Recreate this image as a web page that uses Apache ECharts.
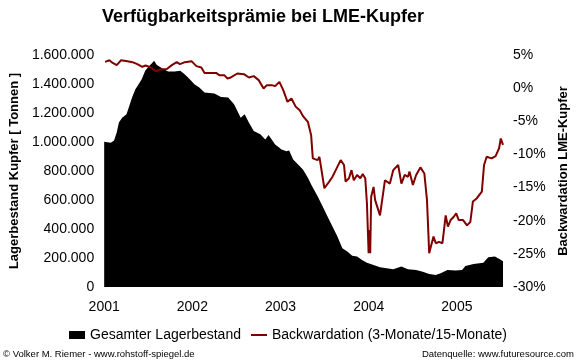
<!DOCTYPE html>
<html>
<head>
<meta charset="utf-8">
<script src="https://cdn.jsdelivr.net/npm/echarts@6/dist/echarts.min.js"></script>
<style>
html,body{margin:0;padding:0;background:#fff;}
#c{width:580px;height:362px;}
</style>
</head>
<body>
<div id="c"></div>
<script>
// Year tick labels
var yearTicks = [2001, 2002, 2003, 2004, 2005];

// Gesamter Lagerbestand (tonnes) — dates as decimal years
var stockDates = [2001.0,2001.075,2001.112,2001.142,2001.167,2001.204,2001.253,2001.279,2001.316,2001.354,2001.391,2001.427,2001.465,2001.502,2001.539,2001.566,2001.595,2001.651,2001.725,2001.800,2001.863,2001.912,2001.968,2002.023,2002.079,2002.138,2002.250,2002.325,2002.406,2002.473,2002.548,2002.593,2002.641,2002.696,2002.771,2002.827,2002.864,2002.939,2003.012,2003.068,2003.098,2003.143,2003.199,2003.254,2003.310,2003.358,2003.422,2003.478,2003.533,2003.589,2003.645,2003.701,2003.757,2003.813,2003.868,2003.924,2003.980,2004.055,2004.128,2004.203,2004.278,2004.371,2004.445,2004.538,2004.613,2004.686,2004.761,2004.817,2004.892,2004.984,2005.059,2005.096,2005.189,2005.300,2005.356,2005.431,2005.487,2005.523];
var stockValues = [1002000,995000,1011000,1065000,1134000,1168000,1191000,1238000,1307000,1364000,1399000,1434000,1491000,1519000,1542000,1561000,1533000,1510000,1487000,1487000,1491000,1468000,1434000,1399000,1376000,1341000,1335000,1311000,1307000,1260000,1168000,1191000,1134000,1076000,1053000,1018000,1048000,983000,949000,937000,942000,880000,845000,810000,753000,695000,625000,556000,487000,418000,348000,268000,244000,215000,210000,187000,168000,152000,136000,129000,123000,141000,123000,118000,106000,90000,83000,95000,118000,113000,118000,145000,159000,168000,205000,210000,192000,178000];

// Backwardation (3-Monate/15-Monate), percent
var backDates = [2001.011,2001.059,2001.097,2001.142,2001.190,2001.265,2001.320,2001.376,2001.432,2001.469,2001.513,2001.544,2001.588,2001.636,2001.711,2001.767,2001.823,2001.859,2001.915,2001.990,2002.046,2002.102,2002.138,2002.213,2002.269,2002.306,2002.362,2002.398,2002.436,2002.510,2002.585,2002.641,2002.696,2002.752,2002.808,2002.845,2002.901,2002.939,2002.987,2003.031,2003.079,2003.124,2003.173,2003.218,2003.254,2003.310,2003.347,2003.366,2003.422,2003.441,2003.459,2003.497,2003.552,2003.589,2003.626,2003.682,2003.720,2003.738,2003.776,2003.805,2003.831,2003.868,2003.905,2003.932,2003.961,2003.980,2003.999,2004.010,2004.017,2004.028,2004.055,2004.073,2004.128,2004.147,2004.184,2004.240,2004.278,2004.334,2004.371,2004.408,2004.445,2004.463,2004.501,2004.538,2004.586,2004.631,2004.661,2004.686,2004.705,2004.735,2004.761,2004.798,2004.836,2004.873,2004.898,2004.929,2004.965,2004.992,2005.021,2005.070,2005.115,2005.152,2005.182,2005.227,2005.283,2005.308,2005.338,2005.356,2005.394,2005.412,2005.439,2005.478,2005.498,2005.523];
var backValues = [3.97,4.2,3.8,3.47,4.2,4.07,3.92,3.62,3.2,3.42,3.2,2.97,2.52,2.82,2.9,3.47,3.92,3.62,3.92,4.07,3.32,3.12,2.3,2.3,2.3,1.96,1.96,1.46,1.61,2.21,2.11,1.61,1.81,1.21,-0.05,0.45,0.45,0.3,0.95,-0.3,-2.06,-1.56,-2.82,-3.32,-4.2,-5.08,-7.09,-10.6,-10.86,-10.36,-11.87,-15.1,-14.1,-13.37,-12.37,-10.86,-11.6,-14.1,-13.6,-12.37,-13.9,-13.1,-13.6,-12.97,-13.6,-17.4,-24.9,-21.4,-24.9,-16.4,-14.9,-16.9,-19.2,-18.9,-13.9,-14.4,-12.37,-11.6,-14.4,-13.1,-13.37,-12.6,-14.6,-13.1,-11.96,-12.87,-16.9,-24.9,-23.9,-22.4,-23.4,-23.2,-23.4,-19.2,-20.9,-19.9,-19.4,-18.9,-19.9,-19.9,-20.7,-20.2,-17.1,-16.6,-15.6,-11.6,-10.36,-10.1,-10.6,-10.86,-10.26,-9.1,-7.6,-8.55];

function zip(a, b) { return a.map(function (v, i) { return [v, b[i]]; }); }
function fmtThousands(v) { return String(v).replace(/\B(?=(\d{3})+(?!\d))/g, '.'); }

var FONT = 'Arial, "Liberation Sans", sans-serif';
var chart = echarts.init(document.getElementById('c'), null, {renderer: 'canvas'});
chart.setOption({
  animation: false,
  backgroundColor: '#fff',
  textStyle: {fontFamily: FONT},
  title: {
    text: 'Verfügbarkeitsprämie bei LME-Kupfer',
    left: 97, top: 3,
    textStyle: {fontFamily: FONT, fontSize: 18, fontWeight: 'bold', color: '#000'}
  },
  grid: {left: 98, right: 77, top: 55, bottom: 75},
  legend: {
    left: 69, top: 328, padding: 0,
    itemWidth: 16, itemHeight: 8, itemGap: 10, symbolKeepAspect: true,
    textStyle: {fontFamily: FONT, fontSize: 14, color: '#000'},
    data: [
      {name: 'Gesamter Lagerbestand', icon: 'rect'},
      {name: 'Backwardation (3-Monate/15-Monate)', icon: 'path://M0,0L16,0L16,2L0,2Z'}
    ]
  },
  xAxis: {
    type: 'value', min: 2001, max: 2005.523, interval: 1,
    axisLine: {show: false}, axisTick: {show: false}, splitLine: {show: false},
    axisLabel: {
      fontFamily: FONT, fontSize: 14, color: '#000', margin: 13,
      showMaxLabel: false,
      formatter: function (v) { return yearTicks.indexOf(v) >= 0 ? String(v) : ''; }
    }
  },
  yAxis: [{
    type: 'value', min: 0, max: 1600000, interval: 200000,
    name: 'Lagerbestand Kupfer [ Tonnen ]', nameLocation: 'middle', nameRotate: 90, nameGap: 77,
    nameTextStyle: {fontFamily: FONT, fontSize: 13, fontWeight: 'bold', color: '#000'},
    axisLine: {show: false}, axisTick: {show: false}, splitLine: {show: false},
    axisLabel: {fontFamily: FONT, fontSize: 14, color: '#000', margin: 10, formatter: fmtThousands}
  }, {
    type: 'value', min: -30, max: 5, interval: 5, position: 'right',
    name: 'Backwardation LME-Kupfer', nameLocation: 'middle', nameRotate: 90, nameGap: 52,
    nameTextStyle: {fontFamily: FONT, fontSize: 13, fontWeight: 'bold', color: '#000'},
    axisLine: {show: false}, axisTick: {show: false}, splitLine: {show: false},
    axisLabel: {fontFamily: FONT, fontSize: 14, color: '#000', margin: 10, formatter: function (v) { return v + '%'; }}
  }],
  series: [{
    name: 'Gesamter Lagerbestand', type: 'line', yAxisIndex: 0,
    data: zip(stockDates, stockValues),
    symbol: 'none', lineStyle: {width: 0, color: '#000'},
    itemStyle: {color: '#000'},
    areaStyle: {color: '#000', opacity: 1}
  }, {
    name: 'Backwardation (3-Monate/15-Monate)', type: 'line', yAxisIndex: 1,
    data: zip(backDates, backValues),
    symbol: 'none', lineStyle: {width: 2, color: '#800000'},
    itemStyle: {color: '#800000'}
  }],
  graphic: [{
    type: 'text', left: 3, top: 349,
    style: {text: '© Volker M. Riemer - www.rohstoff-spiegel.de', font: '9.5px ' + FONT, fill: '#000'}
  }, {
    type: 'text', right: 6, top: 349,
    style: {text: 'Datenquelle: www.futuresource.com', font: '9.5px ' + FONT, fill: '#000'}
  }]
});
</script>
</body>
</html>
